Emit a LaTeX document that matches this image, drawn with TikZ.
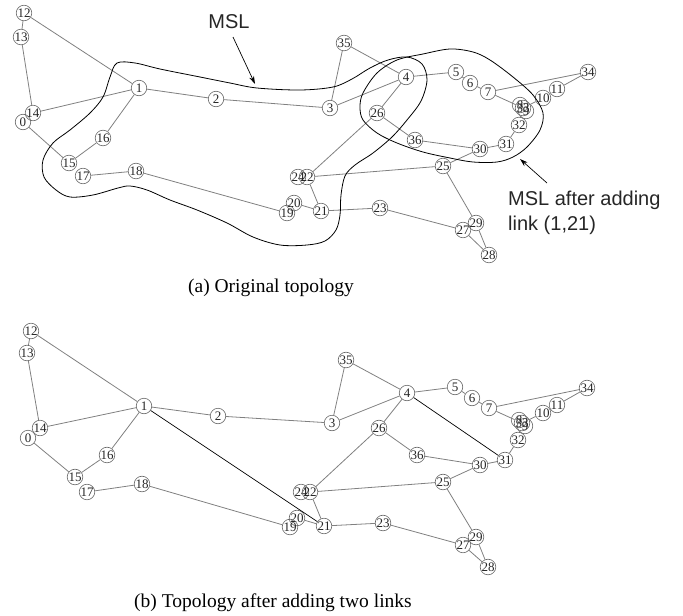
\documentclass[tikz,border=0pt]{standalone}
\usepackage{fontspec}
\setmainfont{Liberation Serif}
\newfontfamily\labelsans{Liberation Sans}
\usetikzlibrary{arrows.meta}
\begin{document}
\begin{tikzpicture}[x=1pt,y=-1pt,
  vtx/.style={circle,draw=gray!80!black,line width=0.6pt,minimum size=15.5pt,inner sep=0pt,font=\fontsize{13}{13}\selectfont,text=black!85},
  edge/.style={draw=gray,line width=0.8pt},
  newlink/.style={draw=black,line width=0.7pt},
  msl/.style={draw=black,line width=0.8pt},
  pointer/.style={draw=black,line width=0.7pt,-{Stealth[length=8pt,width=5pt]}},
  captxt/.style={font=\fontsize{19.5}{22}\selectfont,anchor=base},
  annot/.style={font=\labelsans\fontsize{20}{25}\selectfont,text=black!85,inner sep=0pt}
]
\useasboundingbox (0,0) rectangle (683,616);

% ---------- (a) original topology ----------
\foreach \n/\x/\y in {0/23/122,14/33/113,12/24/13,13/21/37,1/139/88,2/216/99,3/330/108,35/344/43,4/406/77,5/456/72,6/470/83,7/488/92,8/520/105,9/526/111,33/523/108,10/543/98,11/557/89,34/588/72,32/519/125,31/506/144,30/480/149,36/415/140,26/377/113,25/443/166,24/298/177,22/307/177,20/294/203,19/287/213,21/321/211,23/380/208,27/463/230,29/476/223,28/489/255,16/103/138,15/69/163,17/83/176,18/136/171}
  \node[vtx] (a\n) at (\x,\y) {\n};

\foreach \p/\q in {12/13,13/14,12/1,14/1,0/15,15/16,16/1,17/18,18/19,1/2,2/3,3/35,3/4,35/4,4/5,5/6,6/7,7/34,7/33,33/10,10/11,11/34,33/32,32/31,31/30,30/36,36/26,26/4,26/22,22/25,25/30,25/29,22/21,21/20,21/23,23/27,27/28,29/28}
  \draw[edge] (a\p) -- (a\q);

% MSL regions
\draw[msl] plot[smooth cycle, tension=0.55] coordinates {(117,63) (135,63) (160,69) (200,77) (230,83) (257,88) (300,90) (333,87) (352,79) (370,68) (388,60) (407,57) (422,64) (427,80) (421,101) (407,120) (392,137) (373,153) (355,165) (345,176) (341,195) (340,215) (336,230) (325,241) (307,245) (280,245) (253,237) (227,223) (197,210) (170,200) (147,190) (130,186) (118,188) (93,195) (70,197) (56,190) (44,177) (43,160) (53,143) (70,130) (90,113) (103,97) (110,77)};
\draw[msl] plot[smooth cycle, tension=0.55] coordinates {(397,60) (423,54) (450,49) (473,52) (490,60) (513,77) (533,95) (543,113) (540,130) (527,147) (513,157) (497,162) (473,162) (450,158) (423,152) (397,143) (377,133) (363,120) (360,107) (363,93) (377,73)};

\node[annot,anchor=base] (msllabel) at (229,28) {MSL};
\coordinate (mslTail) at (233,37);
\coordinate (mslTip) at (255,84);
\draw[pointer] (mslTail) -- (mslTip);

\node[annot,anchor=base west] (afterA) at (508,205) {MSL after adding};
\node[annot,anchor=base west] (afterB) at (508,230) {link (1,21)};
\coordinate (afterTail) at (547,183);
\coordinate (afterTip) at (520,159);
\draw[pointer] (afterTail) -- (afterTip);

\node[captxt] (capa) at (271,292) {(a) Original topology};

% ---------- (b) after adding two links ----------
\foreach \n/\x/\y in {0/28/438,14/40/428,12/31/331,13/27/353,1/144/406,2/218/416,3/332/423,35/346/360,4/407/393,5/455/387,6/472/398,7/489/408,8/519/420,9/525/426,33/522/423,10/543/413,11/557/405,34/587/388,32/518/440,31/505/460,30/480/465,36/417/455,26/379/428,25/443/482,24/301/492,22/310/492,20/297/518,19/290/527,21/324/526,23/383/523,27/463/545,29/476/537,28/488/567,16/107/455,15/75/477,17/87/492,18/142/484}
  \node[vtx] (b\n) at (\x,\y) {\n};

\foreach \p/\q in {12/13,13/14,12/1,14/1,0/15,15/16,16/1,17/18,18/19,1/2,2/3,3/35,3/4,35/4,4/5,5/6,6/7,7/34,7/33,33/10,10/11,11/34,33/32,32/31,31/30,30/36,36/26,26/4,26/22,22/25,25/30,25/29,22/21,21/20,21/23,23/27,27/28,29/28}
  \draw[edge] (b\p) -- (b\q);

\draw[newlink] (b1) -- (b21);
\draw[newlink] (b4) -- (b31);

\node[captxt] (capb) at (273,607) {(b) Topology after adding two links};
\end{tikzpicture}
\end{document}
